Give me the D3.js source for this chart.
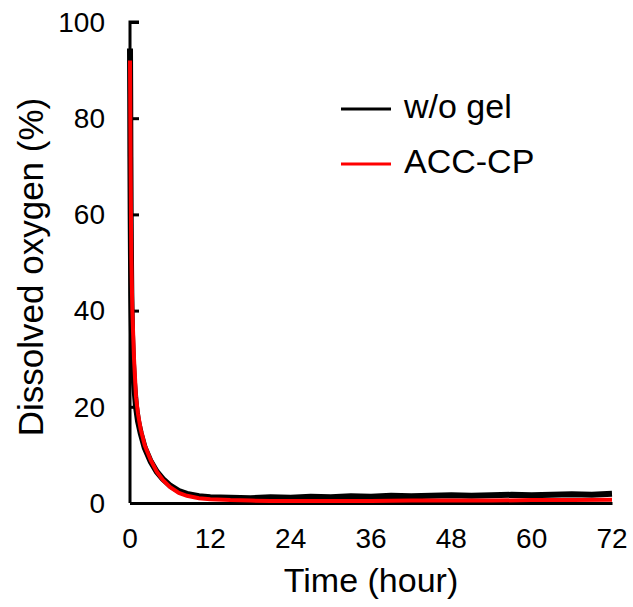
<!DOCTYPE html>
<html>
  <head>
    <meta charset="utf-8">
    <script src="https://d3js.org/d3.v7.min.js"></script>
    <style>
      body { margin: 0; background: #fff; }
      text { font-family: "Liberation Sans", Arial, sans-serif; fill: #000; }
    </style>
  </head>
  <body>
    <svg width="633" height="607"></svg>
  <script>
    // values (time in hours, dissolved oxygen in %)
    var timeBlack = [0, 0.03, 0.06, 0.1, 0.15, 0.2, 0.3, 0.45, 0.6, 0.9, 1.2, 1.6, 2.2, 3.1, 4, 4.9, 6, 7.3, 8.5, 10.3, 12, 15, 18, 21, 24, 27, 30, 33, 36, 39, 42, 45, 48, 51, 54, 57, 60, 63, 66, 69, 72];
    var woGel = [94.5, 85, 72, 60, 50, 43, 35, 29, 25, 20, 17, 14.5, 11.5, 8.6, 6.5, 5.0, 3.6, 2.5, 1.9, 1.4, 1.2, 1.1, 1.0, 1.2, 1.1, 1.3, 1.2, 1.4, 1.3, 1.5, 1.4, 1.5, 1.6, 1.5, 1.6, 1.7, 1.6, 1.7, 1.8, 1.7, 1.9];
    var timeRed = [0, 0.03, 0.06, 0.1, 0.15, 0.2, 0.35, 0.6, 0.9, 1.2, 1.6, 2.2, 3.1, 4, 4.9, 6, 7.3, 8.5, 10.3, 12, 15, 18, 21, 24, 30, 36, 42, 48, 54, 60, 66, 72];
    var accCp = [92, 86, 78, 68, 58, 51, 40, 30, 22, 18.5, 15.3, 12, 8.9, 6.5, 4.8, 3.3, 2.1, 1.5, 1.0, 0.8, 0.6, 0.5, 0.4, 0.4, 0.4, 0.4, 0.5, 0.5, 0.5, 0.6, 0.6, 0.7];
    var xTicks = [0, 12, 24, 36, 48, 60, 72];
    var yTicks = [0, 20, 40, 60, 80, 100];
    var legendLabels = ["w/o gel", "ACC-CP"];
    var legendColors = ["#000000", "#ff0000"];

    var svg = d3.select("svg");
    var plotLeft = 130, plotRight = 612, plotTop = 22, plotBottom = 503;

    var x = d3.scaleLinear().domain([0, 72]).range([plotLeft, plotRight]);
    var y = d3.scaleLinear().domain([0, 100]).range([plotBottom, plotTop]);

    // y axis: ticks point inward
    var yAxis = svg.append("g")
      .attr("transform", "translate(" + plotLeft + ",0)")
      .call(d3.axisRight(y).tickValues(yTicks).tickSize(9).tickFormat(""));
    yAxis.selectAll("path, line").attr("stroke", "#000").attr("stroke-width", 3);
    yAxis.select(".domain").attr("d", "M9," + plotTop + "H0V" + plotBottom);

    svg.selectAll(".ylab")
      .data(yTicks)
      .enter().append("text")
      .attr("class", "ylab")
      .attr("x", 105)
      .attr("y", function(d) { return y(d); })
      .attr("dy", "0.35em")
      .attr("text-anchor", "end")
      .attr("font-size", "28px")
      .text(function(d) { return d; });

    // x axis
    var xAxis = svg.append("g")
      .attr("transform", "translate(0," + plotBottom + ")")
      .call(d3.axisBottom(x).tickValues(xTicks).tickSize(0).tickFormat(""));
    xAxis.selectAll("path").attr("stroke", "#000").attr("stroke-width", 3);

    svg.selectAll(".xlab")
      .data(xTicks)
      .enter().append("text")
      .attr("class", "xlab")
      .attr("x", function(d) { return x(d); })
      .attr("y", 548)
      .attr("text-anchor", "middle")
      .attr("font-size", "28px")
      .text(function(d) { return d; });

    // lines
    var line = d3.line()
      .x(function(d) { return x(d[0]); })
      .y(function(d) { return y(d[1]); });

    svg.append("path")
      .datum(d3.zip(timeBlack, woGel))
      .attr("fill", "none")
      .attr("stroke", legendColors[0])
      .attr("stroke-width", 6)
      .attr("d", line);

    svg.append("path")
      .datum(d3.zip(timeRed, accCp))
      .attr("fill", "none")
      .attr("stroke", legendColors[1])
      .attr("stroke-width", 4)
      .attr("d", line);

    // titles
    svg.append("text")
      .attr("x", 371)
      .attr("y", 592)
      .attr("text-anchor", "middle")
      .attr("font-size", "34px")
      .text("Time (hour)");

    svg.append("text")
      .attr("transform", "translate(43,267) rotate(-90)")
      .attr("text-anchor", "middle")
      .attr("font-size", "35px")
      .text("Dissolved oxygen (%)");

    // legend
    var legend = svg.selectAll(".leg")
      .data(legendLabels)
      .enter().append("g")
      .attr("class", "leg")
      .attr("transform", function(d, i) { return "translate(0," + (109 + i * 55) + ")"; });

    legend.append("line")
      .attr("x1", 341).attr("x2", 391)
      .attr("stroke", function(d, i) { return legendColors[i]; })
      .attr("stroke-width", 3);

    legend.append("text")
      .attr("x", 404)
      .attr("dy", "0.26em")
      .attr("font-size", "34px")
      .text(function(d) { return d; });
  </script>
  </body>
</html>
